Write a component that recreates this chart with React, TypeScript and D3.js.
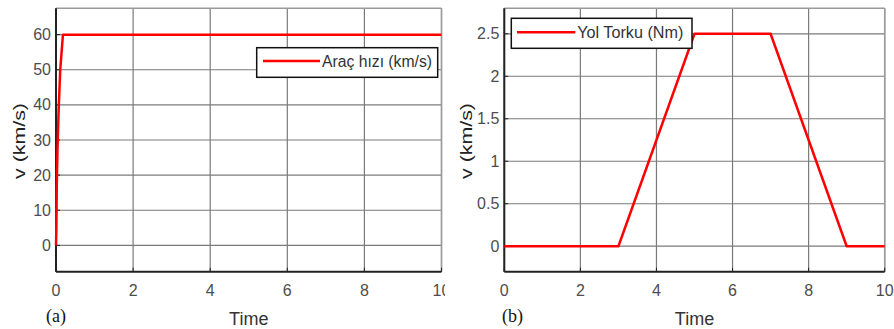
import React from "react";
import * as d3 from "d3";

const xTicks = [0, 2, 4, 6, 8, 10];
const xTickLabels = ["0", "2", "4", "6", "8", "10"];

const timeA = [0, 0.01, 0.02, 0.04, 0.07, 0.11, 0.18, 10];
const speedA = [0, 5, 17, 28, 39, 50, 60, 60];
const yTicksA = [0, 10, 20, 30, 40, 50, 60];
const yTickLabelsA = ["0", "10", "20", "30", "40", "50", "60"];

const timeB = [0, 3, 5, 7, 9, 10];
const torqueB = [0, 0, 2.5, 2.5, 0, 0];
const yTicksB = [0, 0.5, 1, 1.5, 2, 2.5];
const yTickLabelsB = ["0", "0.5", "1", "1.5", "2", "2.5"];

const FONT = "'Liberation Sans', Arial, sans-serif";

type PanelProps = {
  x0: number; x1: number; y0: number; y1: number;
  yDomain: [number, number];
  xs: number[]; ys: number[];
  yTicks: number[]; yTickLabels: string[];
  legend: string;
  legendBox: [number, number, number, number];
  legendLine: [number, number, number];
  legendTextLen: number;
  tag: string; tagX: number;
  yLabelX: number;
  clipId: string; clipX0: number; clipX1: number;
};

function Panel(p: PanelProps) {
  const x = d3.scaleLinear().domain([0, 10]).range([p.x0, p.x1]);
  const y = d3.scaleLinear().domain(p.yDomain).range([p.y1, p.y0]);
  const line = d3.line<number>().x((_, i) => x(p.xs[i])).y((d) => y(d));
  const [lx, ly, lw, lh] = p.legendBox;
  const [la, lb, lyy] = p.legendLine;
  return (
    <g clipPath={`url(#${p.clipId})`}>
      <defs>
        <clipPath id={p.clipId}>
          <rect x={p.clipX0} y={0} width={p.clipX1 - p.clipX0} height={329} />
        </clipPath>
      </defs>
      <rect x={p.x0} y={p.y0} width={p.x1 - p.x0} height={p.y1 - p.y0} fill="#fff" />
      {xTicks.map((t) => (
        <line key={"gx" + t} x1={x(t)} x2={x(t)} y1={p.y0} y2={p.y1} stroke="#7a7a7a" strokeWidth={1.2} />
      ))}
      {p.yTicks.map((t) => (
        <line key={"gy" + t} x1={p.x0} x2={p.x1} y1={y(t)} y2={y(t)} stroke="#7a7a7a" strokeWidth={1.2} />
      ))}
      <line x1={p.x0} x2={p.x1} y1={p.y0} y2={p.y0} stroke="#9a9a9a" strokeWidth={1.5} />
      <line x1={p.x1} x2={p.x1} y1={p.y0} y2={p.y1} stroke="#9a9a9a" strokeWidth={1.5} />
      <line x1={p.x0} x2={p.x1} y1={p.y1} y2={p.y1} stroke="#222" strokeWidth={2} />
      <line x1={p.x0} x2={p.x0} y1={p.y0} y2={p.y1} stroke="#222" strokeWidth={2} />
      {xTicks.map((t) => (
        <line key={"tx" + t} x1={x(t)} x2={x(t)} y1={p.y1} y2={p.y1 - 4} stroke="#222" strokeWidth={1} />
      ))}
      {p.yTicks.map((t) => (
        <line key={"ty" + t} x1={p.x0} x2={p.x0 + 4} y1={y(t)} y2={y(t)} stroke="#222" strokeWidth={1} />
      ))}
      <path d={line(p.ys) || ""} fill="none" stroke="#ff0000" strokeWidth={2.5} strokeLinejoin="round" />
      {xTicks.map((t, i) => (
        <text key={"lx" + t} x={x(t)} y={p.y1 + 24} textAnchor="middle" fontFamily={FONT} fontSize={16} fill="#4d4d4d">
          {xTickLabels[i]}
        </text>
      ))}
      {p.yTicks.map((t, i) => (
        <text key={"ly" + t} x={p.x0 - 5} y={y(t) + 5.6} textAnchor="end" fontFamily={FONT} fontSize={16} fill="#4d4d4d">
          {p.yTickLabels[i]}
        </text>
      ))}
      <text x={(p.x0 + p.x1) / 2} y={325} textAnchor="middle" fontFamily={FONT} fontSize={18} fill="#333">Time</text>
      <text x={p.tagX} y={322} fontFamily="'Liberation Serif', 'Times New Roman', serif" fontSize={18} fill="#111">{p.tag}</text>
      <text
        transform={`translate(${p.yLabelX},141) rotate(-90)`}
        textAnchor="middle"
        fontFamily={FONT}
        fontSize={17}
        fill="#222"
        textLength={76}
        lengthAdjust="spacingAndGlyphs"
      >
        v (km/s)
      </text>
      <rect x={lx} y={ly} width={lw} height={lh} fill="#fff" stroke="#111" strokeWidth={1.5} />
      <line x1={la} x2={lb} y1={lyy} y2={lyy} stroke="#ff0000" strokeWidth={2.5} />
      <text
        x={lb + 2}
        y={lyy + 5.5}
        fontFamily={FONT}
        fontSize={16}
        fill="#333"
        textLength={p.legendTextLen}
        lengthAdjust="spacingAndGlyphs"
      >
        {p.legend}
      </text>
    </g>
  );
}

export default function App() {
  return (
    <svg width={894} height={329} style={{ position: "absolute", left: 0, top: 0, background: "#fff" }}>
      <rect width={894} height={329} fill="#fff" />
      <Panel
        x0={56} x1={441.5} y0={8.3} y1={271.7}
        yDomain={[-7.5, 67.5]}
        xs={timeA} ys={speedA}
        yTicks={yTicksA} yTickLabels={yTickLabelsA}
        legend="Araç hızı (km/s)"
        legendBox={[256.7, 47.7, 181, 29.6]}
        legendLine={[263, 320, 61]}
        legendTextLen={110}
        tag="(a)" tagX={46}
        yLabelX={25}
        clipId="clipA" clipX0={0} clipX1={445}
      />
      <Panel
        x0={504.3} x1={884.7} y0={8.3} y1={271.7}
        yDomain={[-0.3, 2.8]}
        xs={timeB} ys={torqueB}
        yTicks={yTicksB} yTickLabels={yTickLabelsB}
        legend="Yol Torku (Nm)"
        legendBox={[511.3, 18.3, 180.7, 30]}
        legendLine={[517, 575.3, 32.3]}
        legendTextLen={106}
        tag="(b)" tagX={502}
        yLabelX={472}
        clipId="clipB" clipX0={447} clipX1={894}
      />
    </svg>
  );
}
